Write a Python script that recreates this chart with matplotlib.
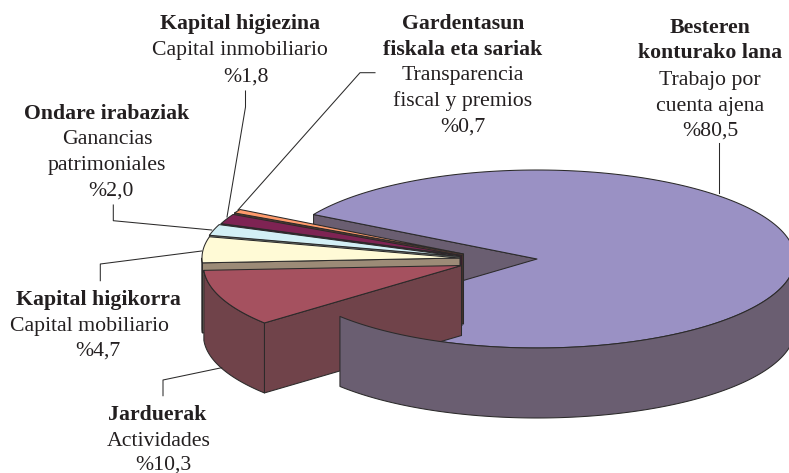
import numpy as np
import matplotlib
matplotlib.use("Agg")
import matplotlib.pyplot as plt

plt.rcParams['font.family'] = ['Liberation Serif', 'DejaVu Serif']

# data
names_eu = ["Besteren\nkonturako lana", "Jarduerak", "Kapital higikorra", "Ondare irabaziak",
            "Kapital higiezina", "Gardentasun\nfiskala eta sariak"]
names_es = ["Trabajo por\ncuenta ajena", "Actividades", "Capital mobiliario", "Ganancias\npatrimoniales",
            "Capital inmobiliario", "Transparencia\nfiscal y premios"]
values = [80.5, 10.3, 4.7, 2.0, 1.8, 0.7]
value_labels = ["%80,5", "%10,3", "%4,7", "%2,0", "%1,8", "%0,7"]

# colours: top face, side face
top_colors = ["#9A91C4", "#A5515F", "#FFFAD6", "#D3EFF5", "#7E2353", "#FF9A6B"]
side_colors = ["#6A5E71", "#70434A", "#9C8B77", "#7E8A88", "#43152E", "#5A3A30"]

# pie geometry, in pixels
rx, ry, depth = 258, 89, 70
start_angle = 150
centers = [(537, 259), (461.5, 265.5), (460, 258), (460, 256.5), (462, 255.5), (463.5, 254)]
edge = "#2B2A2A"
text_color = "#231F20"

fig = plt.figure(figsize=(7.89, 4.73), dpi=100)
ax = fig.add_axes([0, 0, 1, 1])
ax.set_xlim(0, 789)
ax.set_ylim(473, 0)
ax.axis("off")


def rim(c, t1, t2, drop=0):
    t = np.radians(np.linspace(t1, t2, 200))
    return c[0] + rx * np.cos(t), c[1] - ry * np.sin(t) + drop


def face(x, y, color):
    ax.fill(x, y, facecolor=color, edgecolor=edge, linewidth=0.75, joinstyle="round")


def cut_wall(c, t, color):
    x, y = rim(c, t, t)
    x, y = x[0], y[0]
    face([c[0], x, x, c[0]], [c[1], y, y + depth, c[1] + depth], color)


def outer_wall(c, t1, t2, color):
    x1, y1 = rim(c, t1, t2)
    x2, y2 = rim(c, t2, t1, depth)
    face(np.r_[x1, x2], np.r_[y1, y2], color)


# slice limits, turning clockwise from the start angle
sweep = np.array(values) / sum(values) * 360
limits = start_angle - np.r_[0, np.cumsum(sweep)]
main_end = limits[1] + 360

# big slice: back wall and top first, front wall goes on last
cut_wall(centers[0], start_angle, side_colors[0])
x, y = rim(centers[0], start_angle, limits[1])
face(np.r_[centers[0][0], x], np.r_[centers[0][1], y], top_colors[0])

# pulled out slices, from back to front
for i in range(len(values) - 1, 0, -1):
    hi = limits[i] + 360
    lo = limits[i + 1] + 360
    cut_wall(centers[i], hi, side_colors[i])
    if hi > 180:
        outer_wall(centers[i], max(lo, 180), hi, side_colors[i])
    x, y = rim(centers[i], lo, hi)
    face(np.r_[centers[i][0], x], np.r_[centers[i][1], y], top_colors[i])

outer_wall(centers[0], main_end, 360, side_colors[0])

# leader lines
leaders = [
    ([718.7, 718.7], [142.7, 193]),
    ([163, 163, 221.7], [395.7, 380, 367.7]),
    ([100.3, 100.3, 201.7], [280.7, 264, 251]),
    ([113.3, 113.3, 211.7], [205, 220.7, 230]),
    ([245.5, 245.5, 227], [91, 107, 217]),
    ([375, 360, 238], [72.7, 72.7, 210]),
]
for lx, ly in leaders:
    ax.plot(lx, ly, color=edge, linewidth=0.75)

# text blocks: x of centre and baseline of each line
label_x = [
    [710, 710, 710, 710, 710],
    [157, 159, 163],
    [98, 90, 98],
    [107, 107, 107, 111],
    [240, 240, 246],
    [463, 463, 463, 463, 463],
]
label_y = [
    [33, 58, 85, 111, 136],
    [420, 446, 469.5],
    [305, 331, 356],
    [119, 144, 170, 196],
    [29, 55, 81.7],
    [29, 55, 80, 106, 132],
]
for i in range(len(values)):
    bold = names_eu[i].split("\n")
    lines = bold + names_es[i].split("\n") + [value_labels[i]]
    for j, line in enumerate(lines):
        ax.text(label_x[i][j], label_y[i][j], line, ha="center", va="baseline", fontsize=15.7,
                color=text_color, fontweight="bold" if j < len(bold) else "normal")

fig.savefig("out.png", dpi=100)
